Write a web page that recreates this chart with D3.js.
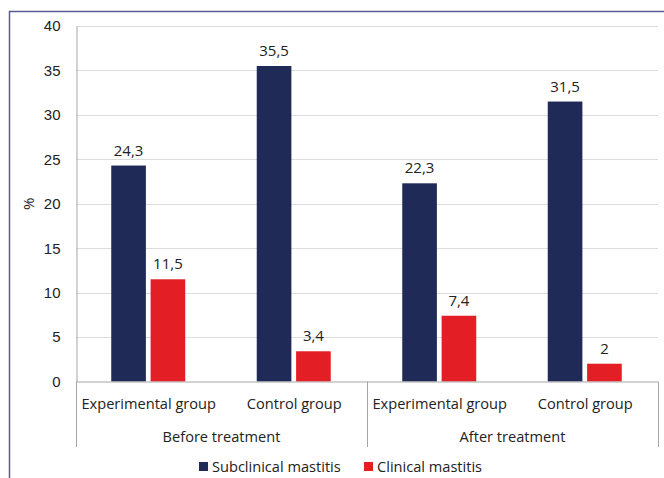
<!DOCTYPE html>
<html>
<head>
<meta charset="utf-8">
<script src="https://cdn.jsdelivr.net/npm/d3@7"></script>
<style>
  html, body { margin: 0; padding: 0; background: #fff; }
  svg { display: block; font-family: "Open Sans", "Liberation Sans", sans-serif; }
</style>
</head>
<body>
<svg id="chart" width="664" height="478"></svg>
<script>
// Mastitis incidence (%) by group, before and after treatment
const categories = ["Experimental group", "Control group", "Experimental group", "Control group"];
const periods = ["Before treatment", "After treatment"];
const seriesNames = ["Subclinical mastitis", "Clinical mastitis"];
const subclinical = [24.3, 35.5, 22.3, 31.5];
const clinical = [11.5, 3.4, 7.4, 2];
const yTicks = [0, 5, 10, 15, 20, 25, 30, 35, 40];
const colors = ["#1f2a57", "#e31e24"];

const svg = d3.select("#chart");
const margin = { left: 76, right: 6, top: 26, bottom: 96 };
const W = 664, H = 478;
const x0 = margin.left, x1 = W - margin.right;
const yTop = margin.top, yBase = 381.5;

const fmt = v => String(v).replace(".", ",");

// Outer frame (top and left edges)
svg.append("path")
  .attr("d", `M9.5,478 V11.5 H664`)
  .attr("fill", "none").attr("stroke", "#5c5a96").attr("stroke-width", 1.5);

const y = d3.scaleLinear().domain([0, 40]).range([yBase, yTop]);
const x = d3.scaleBand().domain(d3.range(categories.length)).range([x0, x1]);
const inner = d3.scaleBand().domain([0, 1]).range([0, 74]).paddingInner(0.12);

// Gridlines
svg.append("g").selectAll("line").data(yTicks.filter(t => t > 0)).join("line")
  .attr("x1", x0).attr("x2", x1)
  .attr("y1", d => Math.round(y(d)) + 0.5).attr("y2", d => Math.round(y(d)) + 0.5)
  .attr("stroke", "#dcdcdc").attr("stroke-width", 1);

// Y axis
const yAxis = d3.axisLeft(y).tickValues(yTicks).tickSize(0).tickPadding(16).tickFormat(d => d);
const gy = svg.append("g").attr("transform", `translate(${x0 + 0.5},0)`).call(yAxis);
gy.select(".domain").attr("stroke", "#a6a6a6");
gy.selectAll("text").attr("font-size", 15).attr("fill", "#222");

// Y axis title
svg.append("text")
  .attr("transform", `translate(34,${(yTop + yBase) / 2}) rotate(-90)`)
  .attr("text-anchor", "middle").attr("font-size", 15).attr("fill", "#222")
  .text("%");

// Bars
const rows = categories.map((c, i) => ({ i, vals: [subclinical[i], clinical[i]] }));
const groups = svg.append("g").selectAll("g").data(rows).join("g")
  .attr("transform", d => `translate(${x(d.i) + x.bandwidth() / 2 - 37.5},0)`);

groups.selectAll("rect").data(d => d.vals.map((v, k) => ({ v, k }))).join("rect")
  .attr("x", d => inner(d.k))
  .attr("width", inner.bandwidth())
  .attr("y", d => y(d.v))
  .attr("height", d => yBase - y(d.v))
  .attr("fill", d => colors[d.k]);

groups.selectAll("text.val").data(d => d.vals.map((v, k) => ({ v, k }))).join("text")
  .attr("class", "val")
  .attr("x", d => inner(d.k) + inner.bandwidth() / 2)
  .attr("y", d => y(d.v) - 10)
  .attr("text-anchor", "middle").attr("font-size", 15).attr("fill", "#222")
  .text(d => fmt(d.v));

// X axis line and group dividers
svg.append("line").attr("x1", x0).attr("x2", x1).attr("y1", yBase + 0.5).attr("y2", yBase + 0.5)
  .attr("stroke", "#a6a6a6");
const dividers = [x0, x(2), x1];
svg.append("g").selectAll("line").data(dividers).join("line")
  .attr("x1", d => Math.round(d) + 0.5).attr("x2", d => Math.round(d) + 0.5)
  .attr("y1", yBase).attr("y2", 447)
  .attr("stroke", "#a6a6a6");

// Category labels
svg.append("g").selectAll("text").data(categories).join("text")
  .attr("x", (d, i) => x(i) + x.bandwidth() / 2)
  .attr("y", 409)
  .attr("text-anchor", "middle").attr("font-size", 14.6).attr("fill", "#222")
  .text(d => d);

// Period labels
svg.append("g").selectAll("text").data(periods).join("text")
  .attr("x", (d, i) => x(i * 2) + x.bandwidth())
  .attr("y", 442)
  .attr("text-anchor", "middle").attr("font-size", 14.6).attr("fill", "#222")
  .text(d => d);

// Legend
const legendX = [199, 364];
const lg = svg.append("g").selectAll("g").data(seriesNames).join("g")
  .attr("transform", (d, i) => `translate(${legendX[i]},462)`);
lg.append("rect").attr("width", 9).attr("height", 9).attr("fill", (d, i) => colors[i]);
lg.append("text").attr("x", 13).attr("y", 9.5).attr("font-size", 14.6).attr("fill", "#222").text(d => d);
</script>
</body>
</html>
